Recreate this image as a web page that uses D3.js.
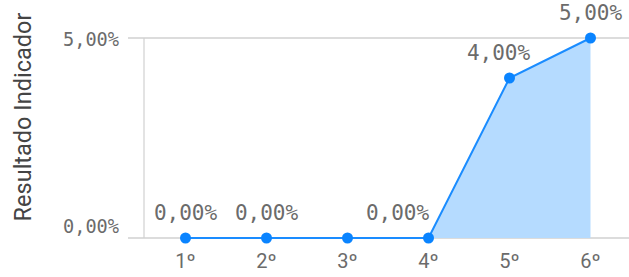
<!DOCTYPE html>
<html>
<head>
<meta charset="utf-8">
<script src="https://cdn.jsdelivr.net/npm/d3@7"></script>
<style>
  body { margin: 0; background: #fff; }
  .tick-y { font-family: "DejaVu Sans Mono", monospace; font-size: 18.6px; fill: #6b6b6b; }
  .value-label { font-family: "DejaVu Sans Mono", monospace; font-size: 21px; fill: #6b6b6b; }
  .tick-x { font-family: Roboto, sans-serif; font-size: 20px; fill: #6b6b6b; }
  .axis-title { font-family: Roboto, sans-serif; font-size: 23.5px; fill: #444; }
</style>
</head>
<body>
<div id="chart"></div>
<script>
var categories = ['1º', '2º', '3º', '4º', '5º', '6º'];
var values = [0, 0, 0, 0, 4, 5];
var yTicks = [0, 5];

var width = 629, height = 277;
var margin = {top: 38, right: 0, bottom: 39, left: 144};

var svg = d3.select('#chart')
    .append('svg')
    .attr('width', width)
    .attr('height', height);

var x = d3.scaleBand()
    .domain(categories)
    .range([margin.left, margin.left + 81 * categories.length]);

var y = d3.scaleLinear()
    .domain([0, 5])
    .range([height - margin.bottom, margin.top]);

var fmt = function(v) { return v.toFixed(2).replace('.', ',') + '%'; };
var cx = function(d, i) { return x(categories[i]) + x.bandwidth() / 2 + 1; };

// grid lines
svg.selectAll('.grid')
    .data(yTicks).enter()
    .append('line')
    .attr('x1', 128)
    .attr('x2', width)
    .attr('y1', function(d) { return y(d); })
    .attr('y2', function(d) { return y(d); })
    .attr('stroke', '#d0d0d0')
    .attr('stroke-width', 1.5);

svg.append('line')
    .attr('x1', margin.left).attr('x2', margin.left)
    .attr('y1', y(5)).attr('y2', y(0))
    .attr('stroke', '#d0d0d0')
    .attr('stroke-width', 1.2);

svg.selectAll('.tick-y')
    .data(yTicks).enter()
    .append('text')
    .attr('class', 'tick-y')
    .attr('x', 119)
    .attr('y', function(d) { return d == 0 ? y(d) - 5 : y(d) + 8; })
    .attr('text-anchor', 'end')
    .text(fmt);

svg.selectAll('.tick-x')
    .data(categories).enter()
    .append('text')
    .attr('class', 'tick-x')
    .attr('x', function(d, i) { return cx(d, i); })
    .attr('y', height - 9)
    .attr('text-anchor', 'middle')
    .text(function(d) { return d; });

svg.append('text')
    .attr('class', 'axis-title')
    .attr('transform', 'translate(31,117) rotate(-90)')
    .attr('text-anchor', 'middle')
    .text('Resultado Indicador');

// area + line
var area = d3.area()
    .x(cx)
    .y0(y(0))
    .y1(function(d) { return y(d); });

var line = d3.line()
    .x(cx)
    .y(function(d) { return y(d); });

svg.append('path')
    .datum(values)
    .attr('d', area)
    .attr('fill', '#b5dbff');

svg.append('path')
    .datum(values)
    .attr('d', line)
    .attr('fill', 'none')
    .attr('stroke', '#1a8cff')
    .attr('stroke-width', 2);

svg.selectAll('.dot')
    .data(values).enter()
    .append('circle')
    .attr('cx', cx)
    .attr('cy', function(d) { return y(d); })
    .attr('r', 5.5)
    .attr('fill', '#0a84ff');

// data labels: the 3rd one is hidden (overlap), 4th and 5th pushed left of the rising line
var labelShift = {3: -31, 4: -11};
values.forEach(function(d, i) {
    if (i == 2) return;
    svg.append('text')
        .attr('class', 'value-label')
        .attr('x', cx(d, i) + (labelShift[i] || 0))
        .attr('y', y(d) - 18)
        .attr('text-anchor', 'middle')
        .text(fmt(d));
});
</script>
</body>
</html>
